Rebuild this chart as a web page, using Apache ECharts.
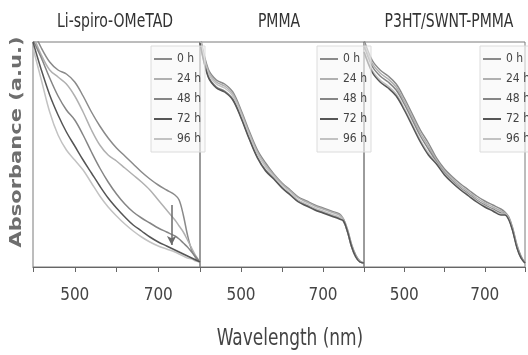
<!DOCTYPE html>
<html>
<head>
<meta charset="utf-8">
<style>
  html, body { margin: 0; padding: 0; background: #fff; }
  #chart { width: 528px; height: 355px; }
</style>
<script src="https://cdn.jsdelivr.net/npm/echarts@6/dist/echarts.min.js"></script>
</head>
<body>
<div id="chart"></div>
<script>
// Wavelength sampling (nm), shared by all three films
const wavelengths = [400,420,440,460,480,500,520,540,560,580,600,620,640,660,680,700,720,740,750,760,770,780,790,800];

const seriesNames = ['0 h', '24 h', '48 h', '72 h', '96 h'];
const seriesColors = ['#8a8a8a', '#b0b0b0', '#858585', '#555555', '#c2c2c2'];

const panelTitles = ['Li-spiro-OMeTAD', 'PMMA', 'P3HT/SWNT-PMMA'];
const xTickLabels = [500, 700];

// Li-spiro-OMeTAD absorbance (a.u.)
const spiro0h  = [2.37,2.19,2.05,1.97,1.93,1.85,1.71,1.55,1.41,1.29,1.19,1.11,1.03,0.95,0.88,0.82,0.77,0.72,0.67,0.52,0.32,0.17,0.09,0.05];
const spiro24h = [2.32,2.12,1.97,1.90,1.83,1.71,1.55,1.37,1.22,1.12,1.06,0.99,0.92,0.85,0.77,0.67,0.57,0.47,0.41,0.35,0.27,0.19,0.11,0.05];
const spiro48h = [2.27,2.09,1.89,1.71,1.57,1.47,1.32,1.15,0.99,0.85,0.73,0.63,0.55,0.49,0.44,0.39,0.35,0.31,0.28,0.24,0.20,0.15,0.10,0.05];
const spiro72h = [2.25,1.97,1.72,1.52,1.35,1.21,1.07,0.94,0.81,0.69,0.59,0.50,0.42,0.36,0.30,0.25,0.21,0.17,0.15,0.13,0.11,0.09,0.07,0.05];
const spiro96h = [2.19,1.87,1.55,1.32,1.17,1.07,0.97,0.84,0.71,0.60,0.51,0.43,0.36,0.30,0.25,0.21,0.18,0.15,0.13,0.11,0.09,0.08,0.06,0.05];

// PMMA-capped film absorbance (a.u.)
const pmma0h  = [2.32,1.98,1.87,1.83,1.75,1.57,1.36,1.17,1.04,0.93,0.84,0.77,0.70,0.66,0.62,0.59,0.56,0.53,0.48,0.37,0.22,0.12,0.06,0.04];
const pmma24h = [2.30,1.96,1.85,1.81,1.73,1.55,1.34,1.15,1.02,0.92,0.83,0.76,0.69,0.65,0.61,0.58,0.55,0.52,0.48,0.37,0.22,0.11,0.06,0.04];
const pmma48h = [2.25,1.91,1.80,1.76,1.68,1.50,1.29,1.10,0.97,0.89,0.80,0.73,0.66,0.62,0.58,0.55,0.52,0.49,0.46,0.35,0.20,0.10,0.05,0.04];
const pmma72h = [2.24,1.90,1.79,1.75,1.67,1.49,1.28,1.09,0.96,0.88,0.79,0.72,0.65,0.61,0.57,0.54,0.51,0.48,0.46,0.35,0.20,0.10,0.05,0.04];
const pmma96h = [2.28,1.94,1.83,1.79,1.71,1.53,1.32,1.13,1.00,0.90,0.81,0.74,0.67,0.63,0.59,0.56,0.53,0.50,0.46,0.35,0.20,0.10,0.05,0.04];

// P3HT/SWNT-PMMA-capped film absorbance (a.u.)
const p3ht0h  = [2.27,2.07,1.97,1.91,1.83,1.69,1.53,1.37,1.24,1.09,0.98,0.90,0.83,0.77,0.71,0.66,0.62,0.58,0.55,0.50,0.38,0.22,0.11,0.04];
const p3ht24h = [2.24,2.04,1.94,1.88,1.80,1.66,1.50,1.34,1.21,1.07,0.96,0.88,0.81,0.75,0.69,0.64,0.60,0.56,0.54,0.49,0.37,0.21,0.10,0.04];
const p3ht48h = [2.21,2.01,1.91,1.85,1.77,1.63,1.47,1.31,1.18,1.05,0.94,0.86,0.79,0.73,0.67,0.62,0.58,0.54,0.53,0.48,0.36,0.20,0.10,0.04];
const p3ht72h = [2.15,1.95,1.85,1.79,1.71,1.57,1.41,1.25,1.12,1.03,0.92,0.84,0.77,0.71,0.65,0.60,0.56,0.52,0.52,0.47,0.35,0.19,0.09,0.04];
const p3ht96h = [2.17,1.97,1.87,1.81,1.73,1.59,1.43,1.27,1.14,1.04,0.93,0.85,0.78,0.72,0.66,0.61,0.57,0.53,0.53,0.48,0.36,0.20,0.09,0.04];

// Downward arrow marking the decay near 730 nm: [wavelength, start, end]
const decayArrow = [732, 0.62, 0.22];

const panels = [
  [spiro0h, spiro24h, spiro48h, spiro72h, spiro96h],
  [pmma0h, pmma24h, pmma48h, pmma72h, pmma96h],
  [p3ht0h, p3ht24h, p3ht48h, p3ht72h, p3ht96h]
];

const narrow = '"DejaVu Sans Condensed", "Liberation Sans", sans-serif';
const gridLefts = [33, 200, 364];
const gridWidth = [167, 164, 163];
const legendLefts = [151, 317, 480];

const grids = gridLefts.map((l, i) => ({
  left: l, width: gridWidth[i], top: 42, height: 225,
  show: true, borderColor: '#7a7a7a', borderWidth: 1, backgroundColor: 'transparent'
}));

const xAxes = grids.map((g, i) => ({
  type: 'value', gridIndex: i, min: 400, max: 800, interval: 100,
  axisLine: { show: true, lineStyle: { color: '#666', width: 1.2 } },
  axisTick: { show: true, length: 5, lineStyle: { color: '#666' } },
  splitLine: { show: false },
  axisLabel: {
    margin: 20, color: '#444', fontSize: 17, fontFamily: narrow,
    formatter: v => (xTickLabels.includes(v) ? String(v) : '')
  }
}));

const yAxes = grids.map((g, i) => ({
  type: 'value', gridIndex: i, min: 0, max: 2.25,
  axisLine: { show: false }, axisTick: { show: false },
  axisLabel: { show: false }, splitLine: { show: false }
}));

const series = [];
panels.forEach((curves, p) => {
  curves.forEach((vals, k) => {
    const s = {
      type: 'line', name: seriesNames[k], xAxisIndex: p, yAxisIndex: p,
      data: wavelengths.map((w, j) => [w, vals[j]]),
      smooth: 0.35, symbol: 'none', clip: true,
      lineStyle: { color: seriesColors[k], width: 1.5 },
      itemStyle: { color: seriesColors[k] },
      z: k === 3 ? 3 : 2
    };
    if (p === 0 && k === 0) {
      s.markLine = {
        silent: true, symbol: ['none', 'arrow'], symbolSize: [7, 9],
        label: { show: false },
        lineStyle: { color: '#6a6a6a', width: 1.5, type: 'solid' },
        data: [[{ coord: [decayArrow[0], decayArrow[1]] }, { coord: [decayArrow[0], decayArrow[2]] }]]
      };
    }
    series.push(s);
  });
});

const legends = legendLefts.map(l => ({
  orient: 'vertical', left: l, top: 46,
  data: seriesNames, icon: 'rect', itemWidth: 18, itemHeight: 2, itemGap: 6,
  padding: [6, 4, 6, 3],
  backgroundColor: 'rgba(246,246,246,0.6)', borderColor: '#dcdcdc', borderWidth: 1,
  textStyle: { color: '#444', fontSize: 12, fontFamily: narrow, lineHeight: 14 },
  selectedMode: true
}));

// Panel headings and the shared x-axis caption, drawn in a condensed face
const titleCenters = [115, 279, 449];
const texts = panelTitles.map((t, i) => ({
  type: 'text', x: titleCenters[i], y: 22, scaleX: 0.82,
  style: {
    text: t, fill: '#333', fontSize: 19, fontFamily: narrow,
    align: 'center', verticalAlign: 'middle'
  }
}));
texts.push({
  type: 'text', x: 290, y: 339, scaleX: 0.82,
  style: {
    text: 'Wavelength (nm)', fill: '#444', fontSize: 23, fontFamily: narrow,
    align: 'center', verticalAlign: 'middle'
  }
});
texts.push({
  type: 'text', x: 17, y: 142, rotation: Math.PI / 2, scaleX: 1.4,
  style: {
    text: 'Absorbance (a.u.)', fill: '#6e6e6e', fontSize: 15, fontWeight: 'bold',
    fontFamily: '"DejaVu Sans", sans-serif', align: 'center', verticalAlign: 'middle'
  }
});

const chart = echarts.init(document.getElementById('chart'), null, { renderer: 'canvas' });
chart.setOption({
  animation: false,
  backgroundColor: '#fff',
  grid: grids,
  xAxis: xAxes,
  yAxis: yAxes,
  legend: legends,
  series: series,
  graphic: texts
});
</script>
</body>
</html>
